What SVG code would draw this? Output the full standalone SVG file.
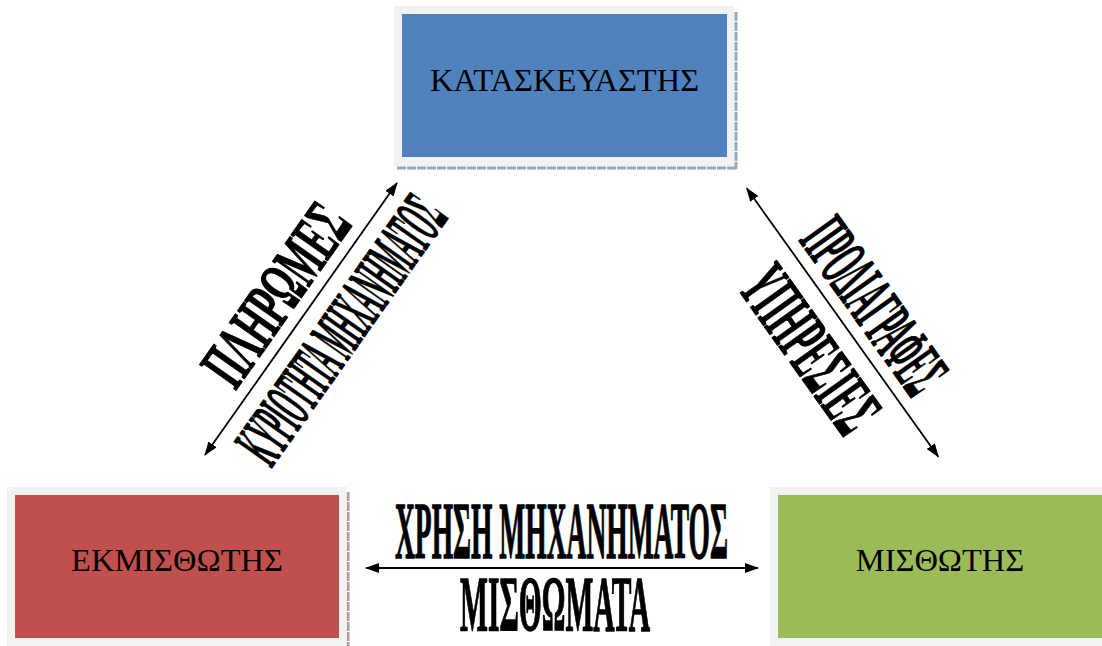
<svg xmlns="http://www.w3.org/2000/svg" width="1102" height="646" viewBox="0 0 1102 646">
<defs>
<marker id="ah" viewBox="0 0 14 10" refX="13" refY="5" markerWidth="14" markerHeight="10" markerUnits="userSpaceOnUse" orient="auto-start-reverse">
<path d="M0,0 L14,5 L0,10 Z" fill="#000"/>
</marker>
</defs>
<style>
.frame{fill:#f2f2f2}
.node{font-family:"Liberation Serif","Times New Roman",serif;font-size:32.5px;fill:#000;text-anchor:middle}
.lbl{font-family:"Liberation Serif","Times New Roman",serif;font-weight:bold;fill:#000;stroke:#000;stroke-width:1.3;stroke-linejoin:round;text-anchor:middle}
.conn{stroke:#000;stroke-width:1.8;fill:none;marker-start:url(#ah);marker-end:url(#ah)}
</style>
<rect width="1102" height="646" fill="#fff"/>
<g id="node-kataskeuastis">
<line x1="736" y1="12" x2="736" y2="169" stroke="#9aa6b8" stroke-width="3" stroke-dasharray="9 1"/>
<line x1="397" y1="168" x2="737" y2="168" stroke="#9aa6b8" stroke-width="3" stroke-dasharray="9 1"/>
<rect class="frame" x="394" y="6" width="340" height="160"/>
<rect x="402" y="14" width="325" height="143" fill="#4f81bd"/>
<text class="node" x="564.5" y="91">ΚΑΤΑΣΚΕΥΑΣΤΗΣ</text>
</g>
<g id="node-ekmisthotis">
<line x1="348" y1="492" x2="348" y2="646" stroke="#b09a9a" stroke-width="3" stroke-dasharray="9 1"/>
<rect class="frame" x="7" y="487" width="340" height="159"/>
<rect x="15" y="495" width="324" height="143" fill="#c0504d"/>
<text class="node" x="177" y="571">ΕΚΜΙΣΘΩΤΗΣ</text>
</g>
<g id="node-misthotis">
<rect class="frame" x="770" y="487" width="332" height="159"/>
<rect x="778" y="495" width="324" height="143" fill="#9bbb59"/>
<text class="node" x="940" y="571">ΜΙΣΘΩΤΗΣ</text>
</g>
<g id="connectors">
<line class="conn" x1="205" y1="455" x2="397" y2="183"/>
<line class="conn" x1="746.7" y1="188.3" x2="938.3" y2="456.7"/>
<line class="conn" x1="366" y1="568" x2="758" y2="568"/>
</g>
<g id="labels">
<text class="lbl" font-size="68" transform="translate(294.4,307.6) rotate(-54.78)" textLength="204" lengthAdjust="spacingAndGlyphs">ΠΛΗΡΩΜΕΣ</text>
<text class="lbl" font-size="70" transform="translate(360.1,342.9) rotate(-54.78)" textLength="308" lengthAdjust="spacingAndGlyphs">ΚΥΡΙΟΤΗΤΑ ΜΗΧΑΝΗΜΑΤΟΣ</text>
<text class="lbl" font-size="72" transform="translate(855.2,319.7) rotate(54.48)" textLength="196" lengthAdjust="spacingAndGlyphs">ΠΡΟΔΙΑΓΡΑΦΕΣ</text>
<text class="lbl" font-size="74" transform="translate(790.6,363.4) rotate(54.48)" textLength="185" lengthAdjust="spacingAndGlyphs">ΥΠΗΡΕΣΙΕΣ</text>
<text class="lbl" font-size="80" x="561.5" y="558" textLength="333" lengthAdjust="spacingAndGlyphs">ΧΡΗΣΗ ΜΗΧΑΝΗΜΑΤΟΣ</text>
<text class="lbl" font-size="79" x="555" y="630" textLength="190" lengthAdjust="spacingAndGlyphs">ΜΙΣΘΩΜΑΤΑ</text>
</g>
</svg>
